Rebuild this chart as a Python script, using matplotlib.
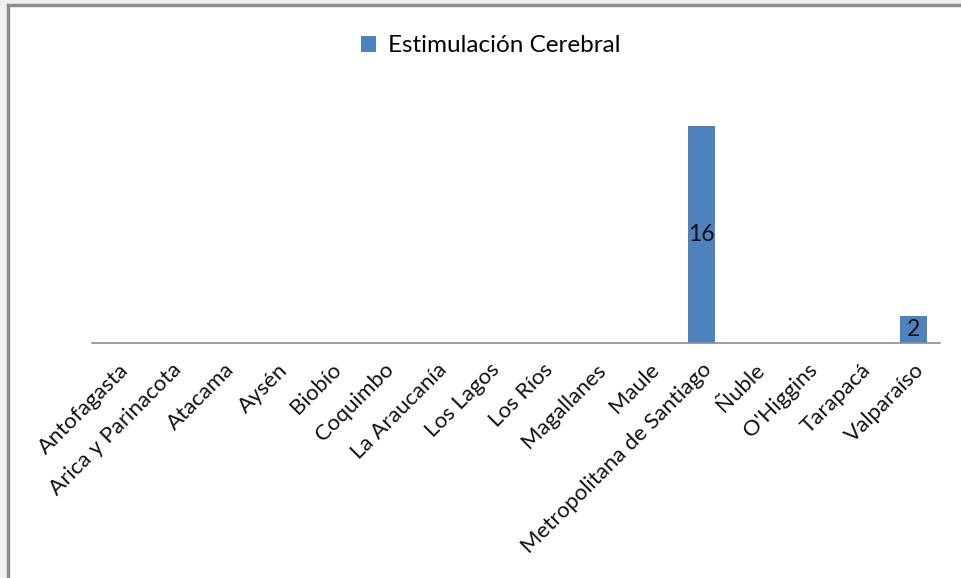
import matplotlib.pyplot as plt
from matplotlib.patches import Rectangle

regiones = ["Antofagasta", "Arica y Parinacota", "Atacama", "Aysén", "Biobío",
            "Coquimbo", "La Araucanía", "Los Lagos", "Los Ríos", "Magallanes",
            "Maule", "Metropolitana de Santiago", "Ñuble", "O'Higgins",
            "Tarapacá", "Valparaíso"]
valores = [0, 0, 0, 0, 0, 0, 0, 0, 0, 0, 0, 16, 0, 0, 0, 2]
serie = "Estimulación Cerebral"

plt.rcParams["font.family"] = ["Lato", "DejaVu Sans"]
color = "#4f81bd"

fig = plt.figure(figsize=(9.61, 5.78), dpi=100, facecolor="#efefef")

# white chart area with grey border
fig.patches.append(Rectangle((8 / 961, -0.1), 1.1, 1 - 5 / 578 + 0.1,
                             transform=fig.transFigure, facecolor="white",
                             edgecolor="#8c8c8c", linewidth=2.5, zorder=-5))

ax = fig.add_axes([92 / 961, 1 - 343 / 578, (940 - 92) / 961, (343 - 72) / 578])
ax.set_facecolor("none")

x = list(range(len(regiones)))
bars = ax.bar(x, valores, width=0.5, color=color, label=serie)
ax.set_xlim(-0.5, len(regiones) - 0.5)
ax.set_ylim(0, 20)

for b, v in zip(bars, valores):
    if v > 0:
        ax.text(b.get_x() + b.get_width() / 2, v / 2, str(v),
                ha="center", va="center", fontsize=16.5, color="#111111")

for s in ["top", "right", "left"]:
    ax.spines[s].set_visible(False)
ax.spines["bottom"].set_color("#8c8c8c")
ax.spines["bottom"].set_linewidth(1.2)
ax.set_yticks([])
ax.set_xticks(x)
ax.set_xticklabels(regiones, rotation=45, ha="right", va="top",
                   rotation_mode="anchor", fontsize=16, color="#111111")
ax.tick_params(axis="x", length=0, pad=12)

fig.legend(handles=[bars], labels=[serie], loc="center",
           bbox_to_anchor=(491 / 961, 1 - 46 / 578), frameon=False,
           fontsize=17.5, handlelength=0.6, handleheight=0.6, handletextpad=0.5)

fig.savefig("out.png", dpi=100, facecolor=fig.get_facecolor())
